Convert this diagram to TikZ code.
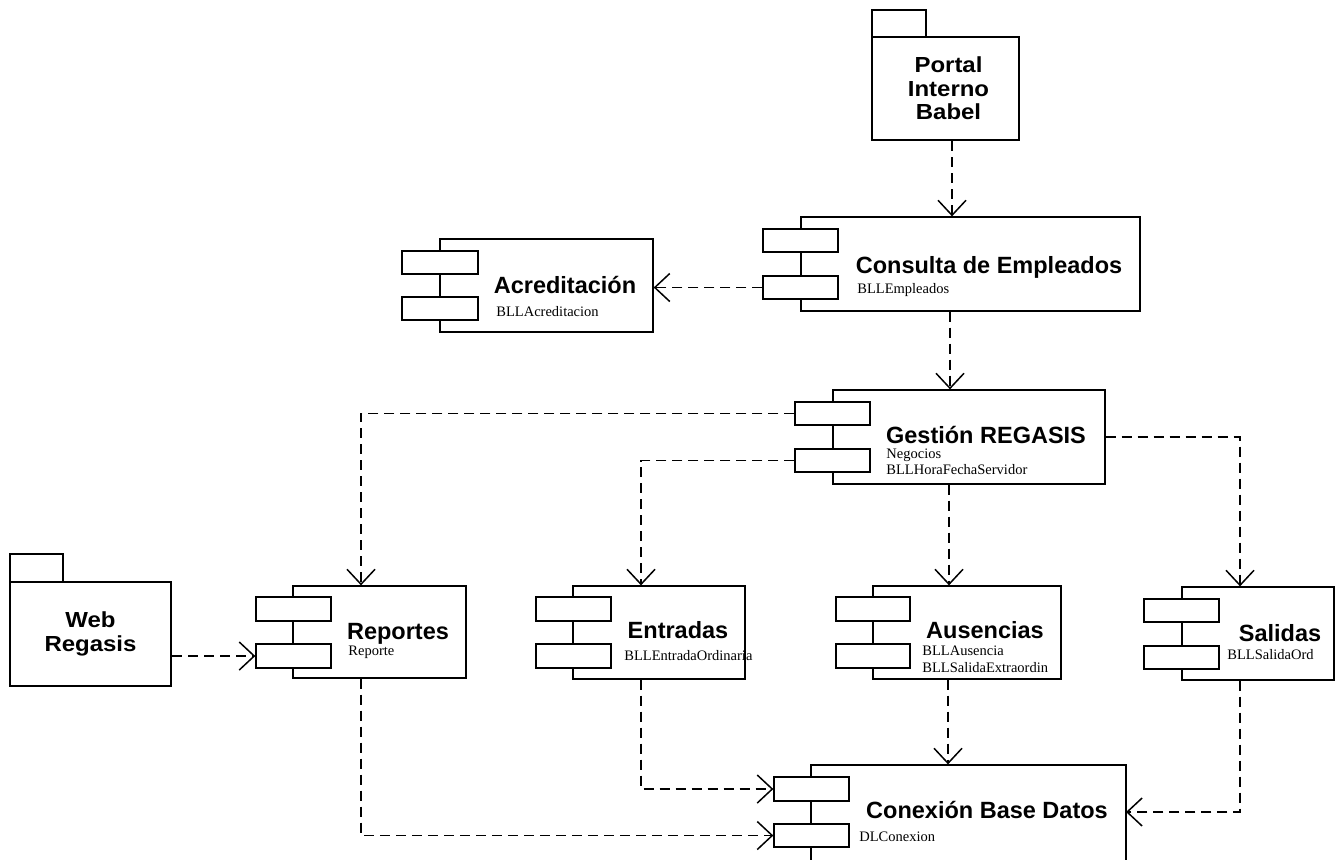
\documentclass[tikz,border=0pt]{standalone}
\usepackage{fontspec}
\setmainfont{Liberation Serif}
\newfontfamily\titlefont{Liberation Sans}
\newfontfamily\pkgfont[FakeStretch=1.1]{Liberation Sans}
\usetikzlibrary{arrows.meta,fit}

\tikzset{
  comp/.style={draw, line width=0.65pt, inner sep=0pt, fill=white},
  port/.style={draw, line width=0.65pt, inner sep=0pt, fill=white},
  pkg/.style={draw, line width=1.3pt, inner sep=0pt, fill=white},
  ttl/.style={anchor=base, inner sep=0pt, font=\titlefont\bfseries\fontsize{11.75}{14}\selectfont},
  lbl/.style={anchor=base west, inner sep=0pt, font=\fontsize{7.25}{9}\selectfont},
  pkgtxt/.style={align=center, inner sep=0pt, font=\pkgfont\bfseries\fontsize{10.9}{11.75}\selectfont},
  dep/.style={draw, line width=0.75pt, dash pattern=on 5pt off 3pt,
    -{Straight Barb[length=7.5pt,width=14pt]}},
}

\begin{document}
\begin{tikzpicture}[x=0.5pt, y=-0.5pt]
\useasboundingbox (0,0) rectangle (1344,859);
\clip (0,0) rectangle (1344,859);

% packages
\node[pkg, fit={(872,10) (926,37)}] (portal-tab) {};
\node[pkg, fit={(872,37) (1019,140)}] (portal) {};
\node[pkgtxt] (portal-txt) at ([xshift=1.5pt]portal.center) {Portal\\Interno\\Babel};

\node[pkg, fit={(10,554) (63,582)}] (web-tab) {};
\node[pkg, fit={(10,582) (171,686)}] (web) {};
\node[pkgtxt] (web-txt) at (web.center) {Web\\Regasis};

% Consulta de Empleados
\node[comp, fit={(801,217) (1140,311)}] (cons) {};
\node[port, fit={(763,229) (838,252)}] (cons-p1) {};
\node[port, fit={(763,276) (838,299)}] (cons-p2) {};
\node[ttl] (cons-t) at (989,273) {Consulta de Empleados};
\node[lbl] (cons-l) at (857,293) {BLLEmpleados};

% Acreditacion
\node[comp, fit={(440,239) (653,332)}] (acr) {};
\node[port, fit={(402,251) (478,274)}] (acr-p1) {};
\node[port, fit={(402,297) (478,320)}] (acr-p2) {};
\node[ttl] (acr-t) at (565,293) {Acreditación};
\node[lbl] (acr-l) at (496,316) {BLLAcreditacion};

% Gestion REGASIS
\node[comp, fit={(833,390) (1105,484)}] (gest) {};
\node[port, fit={(795,402) (870,425)}] (gest-p1) {};
\node[port, fit={(795,449) (870,472)}] (gest-p2) {};
\node[ttl] (gest-t) at (986,443) {Gestión REGASIS};
\node[lbl] (gest-l1) at (886,458) {Negocios};
\node[lbl] (gest-l2) at (886,474) {BLLHoraFechaServidor};

% Reportes
\node[comp, fit={(293,586) (466,678)}] (rep) {};
\node[port, fit={(256,597) (331,621)}] (rep-p1) {};
\node[port, fit={(256,644) (331,668)}] (rep-p2) {};
\node[ttl] (rep-t) at (398,639) {Reportes};
\node[lbl] (rep-l) at (348,655) {Reporte};

% Entradas
\node[comp, fit={(573,586) (745,679)}] (ent) {};
\node[port, fit={(536,597) (611,621)}] (ent-p1) {};
\node[port, fit={(536,644) (611,668)}] (ent-p2) {};
\node[ttl] (ent-t) at (678,638) {Entradas};
\node[lbl] (ent-l) at (624,660) {BLLEntradaOrdinaria};

% Ausencias
\node[comp, fit={(873,586) (1061,679)}] (aus) {};
\node[port, fit={(836,597) (910,621)}] (aus-p1) {};
\node[port, fit={(836,644) (910,668)}] (aus-p2) {};
\node[ttl] (aus-t) at (985,638) {Ausencias};
\node[lbl] (aus-l1) at (922,655) {BLLAusencia};
\node[lbl] (aus-l2) at (922,672) {BLLSalidaExtraordin};

% Salidas
\node[comp, fit={(1182,587) (1334,680)}] (sal) {};
\node[port, fit={(1144,599) (1219,622)}] (sal-p1) {};
\node[port, fit={(1144,646) (1219,669)}] (sal-p2) {};
\node[ttl] (sal-t) at (1280,641) {Salidas};
\node[lbl] (sal-l) at (1227,659) {BLLSalidaOrd};

% Conexion Base Datos (runs past the lower edge)
\node[comp, fit={(811,765) (1126,900)}] (con) {};
\node[port, fit={(774,777) (849,801)}] (con-p1) {};
\node[port, fit={(774,824) (849,847)}] (con-p2) {};
\node[ttl] (con-t) at (987,818) {Conexión Base Datos};
\node[lbl] (con-l) at (859,841) {DLConexion};
\coordinate (con-in) at (1126,812);

% dependencies
\draw[dep] (952,0 |- portal.south) -- (952,0 |- cons.north);
\draw[dep] (cons-p2.west) -- (acr.east |- cons-p2.west);
\draw[dep] (950,0 |- cons.south) -- (950,0 |- gest.north);
\draw[dep] (gest-p1.west) -| (361,0 |- rep.north);
\draw[dep] (gest-p2.west) -| (641,0 |- ent.north);
\draw[dep] (949,0 |- gest.south) -- (949,0 |- aus.north);
\draw[dep] (gest.east) -| (1240,0 |- sal.north);
\draw[dep] (web.east |- rep-p2.west) -- (rep-p2.west);
\draw[dep] (641,0 |- ent.south) |- (con-p1.west);
\draw[dep] (361,0 |- rep.south) |- (con-p2.west);
\draw[dep] (948,0 |- aus.south) -- (948,0 |- con.north);
\draw[dep] (1240,0 |- sal.south) |- (con-in);
\end{tikzpicture}
\end{document}
